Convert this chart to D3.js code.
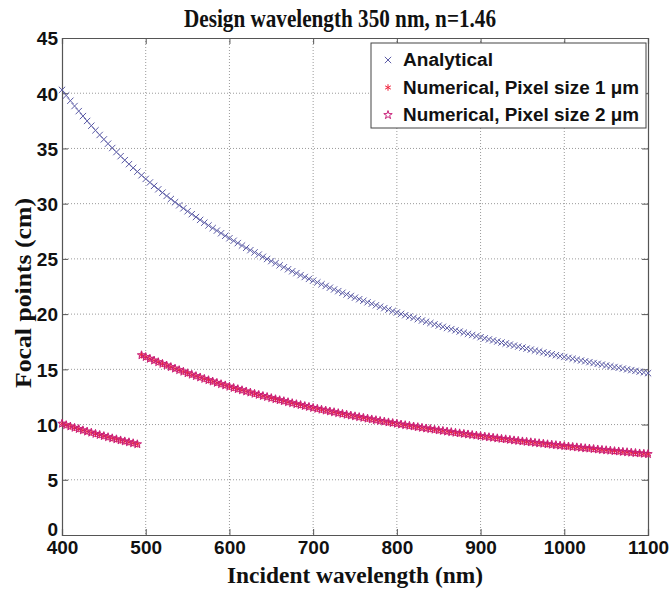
<!DOCTYPE html>
<html><head><meta charset="utf-8">
<script src="https://cdn.jsdelivr.net/npm/d3@7"></script>
<style>body{margin:0;background:#fff;}svg{display:block;}</style>
</head><body>
<script>
// ---- data ----
const title = "Design wavelength 350 nm, n=1.46";
const xLabel = "Incident wavelength (nm)";
const yLabel = "Focal points (cm)";
const xTicks = [400,500,600,700,800,900,1000,1100];
const yTicks = [0,5,10,15,20,25,30,35,40,45];
const seriesNames = ["Analytical","Numerical, Pixel size 1 \u03bcm","Numerical, Pixel size 2 \u03bcm"];
const wavelengths = d3.range(400, 1101, 5);
const analytical = [40.30,39.80,39.32,38.84,38.38,37.93,37.49,37.06,36.64,36.22,35.82,35.43,35.04,34.67,34.30,33.94,33.58,33.24,32.90,32.57,
32.24,31.92,31.61,31.30,31.00,30.70,30.42,30.13,29.85,29.58,29.31,29.05,28.79,28.53,28.28,28.03,27.79,27.56,27.32,27.09,
26.87,26.64,26.43,26.21,26.00,25.79,25.59,25.39,25.19,24.99,24.80,24.61,24.42,24.24,24.06,23.88,23.71,23.53,23.36,23.19,
23.03,22.87,22.70,22.55,22.39,22.23,22.08,21.93,21.78,21.64,21.49,21.35,21.21,21.07,20.94,20.80,20.67,20.54,20.41,20.28,
20.15,20.02,19.90,19.78,19.66,19.54,19.42,19.31,19.19,19.08,18.96,18.85,18.74,18.64,18.53,18.42,18.32,18.21,18.11,18.01,
17.91,17.81,17.71,17.62,17.52,17.43,17.33,17.24,17.15,17.06,16.97,16.88,16.79,16.70,16.62,16.53,16.45,16.37,16.28,16.20,
16.12,16.04,15.96,15.88,15.80,15.73,15.65,15.57,15.50,15.43,15.35,15.28,15.21,15.14,15.07,15.00,14.93,14.86,14.79,14.72,14.65];
const numerical1 = [10.08,9.95,9.83,9.71,9.60,9.48,9.37,9.27,9.16,9.06,8.96,8.86,8.76,8.67,8.57,8.48,8.40,8.31,8.22,
16.28,16.12,15.96,15.80,15.65,15.50,15.35,15.21,15.07,14.93,14.79,14.65,14.52,14.39,14.27,14.14,14.02,13.90,13.78,13.66,13.55,
13.43,13.32,13.21,13.11,13.00,12.90,12.79,12.69,12.59,12.50,12.40,12.30,12.21,12.12,12.03,11.94,11.85,11.77,11.68,11.60,
11.51,11.43,11.35,11.27,11.19,11.12,11.04,10.97,10.89,10.82,10.75,10.68,10.61,10.54,10.47,10.40,10.33,10.27,10.20,10.14,
10.08,10.01,9.95,9.89,9.83,9.77,9.71,9.65,9.60,9.54,9.48,9.43,9.37,9.32,9.26,9.21,9.16,9.11,9.06,9.01,
8.96,8.91,8.86,8.81,8.76,8.71,8.67,8.62,8.57,8.53,8.48,8.44,8.40,8.35,8.31,8.27,8.22,8.18,8.14,8.10,
8.06,8.02,7.98,7.94,7.90,7.86,7.83,7.79,7.75,7.71,7.68,7.64,7.60,7.57,7.53,7.50,7.46,7.43,7.39,7.36,7.33];
const numerical2 = [10.08,9.95,9.83,9.71,9.60,9.48,9.37,9.27,9.16,9.06,8.96,8.86,8.76,8.67,8.57,8.48,8.40,8.31,8.22,
16.28,16.12,15.96,15.80,15.65,15.50,15.35,15.21,15.07,14.93,14.79,14.65,14.52,14.39,14.27,14.14,14.02,13.90,13.78,13.66,13.55,
13.43,13.32,13.21,13.11,13.00,12.90,12.79,12.69,12.59,12.50,12.40,12.30,12.21,12.12,12.03,11.94,11.85,11.77,11.68,11.60,
11.51,11.43,11.35,11.27,11.19,11.12,11.04,10.97,10.89,10.82,10.75,10.68,10.61,10.54,10.47,10.40,10.33,10.27,10.20,10.14,
10.08,10.01,9.95,9.89,9.83,9.77,9.71,9.65,9.60,9.54,9.48,9.43,9.37,9.32,9.26,9.21,9.16,9.11,9.06,9.01,
8.96,8.91,8.86,8.81,8.76,8.71,8.67,8.62,8.57,8.53,8.48,8.44,8.40,8.35,8.31,8.27,8.22,8.18,8.14,8.10,
8.06,8.02,7.98,7.94,7.90,7.86,7.83,7.79,7.75,7.71,7.68,7.64,7.60,7.57,7.53,7.50,7.46,7.43,7.39,7.36,7.33];

// ---- layout ----
const W = 670, H = 589;
const m = {left: 62, right: 22, top: 38, bottom: 54};
const pw = W - m.left - m.right, ph = H - m.top - m.bottom;
const colA = "#5c5ca6", col1 = "#f0203a", col2 = "#c81e78";

const svg = d3.select("body").append("svg").attr("width", W).attr("height", H);
const g = svg.append("g").attr("transform", `translate(${m.left},${m.top})`);
const x = d3.scaleLinear().domain([400, 1100]).range([0, pw]);
const y = d3.scaleLinear().domain([0, 45]).range([ph, 0]);

// grid
g.append("g").selectAll("line").data(xTicks.slice(1, -1)).join("line")
  .attr("x1", d => x(d)).attr("x2", d => x(d)).attr("y1", 0).attr("y2", ph)
  .attr("stroke", "#9a9a9a").attr("stroke-width", 1).attr("stroke-dasharray", "1,2");
g.append("g").selectAll("line").data(yTicks.slice(1, -1)).join("line")
  .attr("y1", d => y(d)).attr("y2", d => y(d)).attr("x1", 0).attr("x2", pw)
  .attr("stroke", "#9a9a9a").attr("stroke-width", 1).attr("stroke-dasharray", "1,2");

// axes
const tickFont = "bold 19px 'Liberation Sans', Arial, sans-serif";
const xAxis = g.append("g").attr("transform", `translate(0,${ph})`)
  .call(d3.axisBottom(x).tickValues(xTicks).tickSize(-6).tickPadding(8).tickFormat(d3.format("d")));
const yAxis = g.append("g")
  .call(d3.axisLeft(y).tickValues(yTicks).tickSize(-6).tickPadding(4).tickFormat(d3.format("d")));
g.append("g").attr("transform", `translate(0,0)`)
  .call(d3.axisTop(x).tickValues(xTicks).tickSize(-6).tickFormat(""));
g.append("g").attr("transform", `translate(${pw},0)`)
  .call(d3.axisRight(y).tickValues(yTicks).tickSize(-6).tickFormat(""));
g.selectAll(".domain").attr("stroke", "#555").attr("stroke-width", 1.2);
g.selectAll(".tick line").attr("stroke", "#555");
[xAxis, yAxis].forEach(a => a.selectAll("text").style("font", tickFont).attr("fill", "#111"));
xAxis.selectAll("text").attr("dy", "0.6em");
yAxis.selectAll("text").attr("dy", "0.36em");
yAxis.selectAll(".tick").filter(d => d === 0).select("text").attr("dy", "0.05em");

// markers
const symX = d3.symbol().type(d3.symbolX).size(28);
const symAst = d3.symbol().type(d3.symbolAsterisk).size(30);
const symStar = d3.symbol().type(d3.symbolStar).size(22);

g.append("g").selectAll("path").data(wavelengths.map((w, i) => [w, analytical[i]])).join("path")
  .attr("d", symX).attr("transform", d => `translate(${x(d[0])},${y(d[1])})`)
  .attr("fill", "none").attr("stroke", colA).attr("stroke-width", 1);
g.append("g").selectAll("path").data(wavelengths.map((w, i) => [w, numerical1[i]])).join("path")
  .attr("d", symAst).attr("transform", d => `translate(${x(d[0])},${y(d[1])})`)
  .attr("fill", "none").attr("stroke", col1).attr("stroke-width", 1);
g.append("g").selectAll("path").data(wavelengths.map((w, i) => [w, numerical2[i]])).join("path")
  .attr("d", symStar).attr("transform", d => `translate(${x(d[0])},${y(d[1])})`)
  .attr("fill", "none").attr("stroke", col2).attr("stroke-width", 1);

// legend
const lg = svg.append("g").attr("transform", "translate(371,43)");
lg.append("rect").attr("width", 275).attr("height", 85).attr("fill", "#fff").attr("stroke", "#444").attr("stroke-width", 1);
const legSyms = [[symX, colA], [symAst, col1], [symStar, col2]];
seriesNames.forEach((name, i) => {
  const yy = 17 + i * 27.5;
  lg.append("path").attr("d", legSyms[i][0]).attr("transform", `translate(17,${yy})`)
    .attr("fill", "none").attr("stroke", legSyms[i][1]).attr("stroke-width", 1);
  lg.append("text").attr("x", 32).attr("y", yy).attr("dy", "0.36em").text(name)
    .style("font", "bold 18px 'Liberation Sans', Arial, sans-serif").attr("fill", "#111")
    .attr("textLength", i === 0 ? 90 : 236).attr("lengthAdjust", "spacingAndGlyphs");
});

// titles
const serif = "'Liberation Serif', 'Times New Roman', serif";
svg.append("text").attr("x", 340).attr("y", 27).attr("text-anchor", "middle").text(title)
  .style("font", `bold 25px ${serif}`).attr("fill", "#111")
  .attr("textLength", 312).attr("lengthAdjust", "spacingAndGlyphs");
svg.append("text").attr("x", 355).attr("y", 583).attr("text-anchor", "middle").text(xLabel)
  .style("font", `bold 23px ${serif}`).attr("fill", "#111")
  .attr("textLength", 256).attr("lengthAdjust", "spacingAndGlyphs");
svg.append("text").attr("transform", "translate(31,293) rotate(-90)").attr("text-anchor", "middle").text(yLabel)
  .style("font", `bold 24px ${serif}`).attr("fill", "#111")
  .attr("textLength", 190).attr("lengthAdjust", "spacingAndGlyphs");
</script>
</body></html>
